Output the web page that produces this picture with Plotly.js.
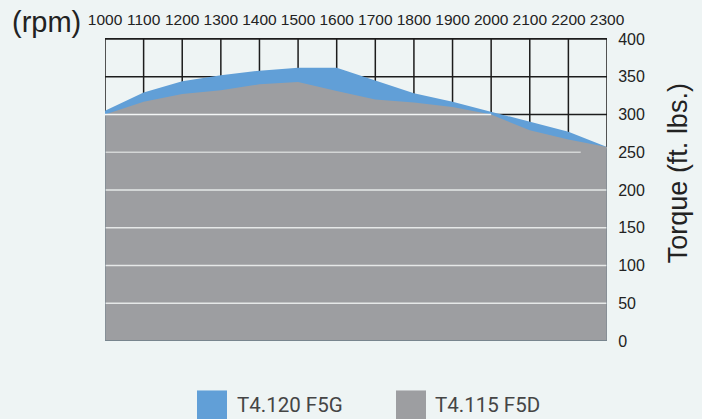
<!DOCTYPE html>
<html>
<head>
<meta charset="utf-8">
<script src="https://cdn.plot.ly/plotly-3.0.1.min.js"></script>
<style>
html,body{margin:0;padding:0;background:#eef4f4;}
#chart{width:702px;height:419px;}
</style>
</head>
<body>
<div id="chart"></div>
<script>
// Data
var rpm = [1000, 1100, 1200, 1300, 1400, 1500, 1600, 1700, 1800, 1900, 2000, 2100, 2200, 2300];
var torqueF5G = [305, 329, 344, 352, 358, 362, 362, 345, 328, 317, 304, 290, 277, 257];
var torqueF5D = [300, 317, 327, 332, 340, 343, 331, 320, 316, 310, 300, 279, 267, 257];
var seriesNames = ['T4.120 F5G', 'T4.115 F5D'];
var xTicks = [1000, 1100, 1200, 1300, 1400, 1500, 1600, 1700, 1800, 1900, 2000, 2100, 2200, 2300];
var yTicks = [0, 50, 100, 150, 200, 250, 300, 350, 400];

var BLUE = '#619fd7';
var GRAY = '#9d9ea1';
var BG = '#eef4f4';

// plot area in pixels
var L = 105, R = 607, T = 39, B = 340.6;
function px(x) { return (x - L) / (R - L); }
function py(y) { return (B - y) / (B - T); }

var traces = [
  {x: rpm, y: torqueF5G, name: seriesNames[0], type: 'scatter', mode: 'lines',
   fill: 'tozeroy', fillcolor: BLUE, line: {width: 0, color: BLUE}, hoverinfo: 'skip'},
  {x: rpm, y: torqueF5D, name: seriesNames[1], type: 'scatter', mode: 'lines',
   fill: 'tozeroy', fillcolor: GRAY, line: {width: 0, color: GRAY}, hoverinfo: 'skip'}
];

var shapes = [];
// black grid (below traces)
xTicks.forEach(function (v) {
  shapes.push({type: 'line', layer: 'below', xref: 'x', yref: 'y', x0: v, x1: v, y0: 0, y1: 400,
    line: {color: '#1c1c1c', width: 1.5}});
});
yTicks.forEach(function (v) {
  shapes.push({type: 'line', layer: 'below', xref: 'x', yref: 'y', x0: 1000, x1: 2300, y0: v, y1: v,
    line: {color: '#1c1c1c', width: 1.5}});
});
// white lines over the grey area
[50, 100, 150, 200].forEach(function (v) {
  shapes.push({type: 'line', layer: 'above', xref: 'x', yref: 'y', x0: 1000, x1: 2300, y0: v, y1: v,
    line: {color: '#e6e8e8', width: 1.5}});
});
shapes.push({type: 'line', layer: 'above', xref: 'x', yref: 'y', x0: 1000, x1: 2232, y0: 250, y1: 250,
  line: {color: '#d4d6d6', width: 1.5}});
shapes.push({type: 'line', layer: 'above', xref: 'x', yref: 'y', x0: 1000, x1: 2000, y0: 300, y1: 300,
  line: {color: '#f4f6f6', width: 1.5}});
// edges inside grey
shapes.push({type: 'line', layer: 'above', xref: 'x', yref: 'y', x0: 1000, x1: 2300, y0: 0, y1: 0,
  line: {color: '#6d7c88', width: 1.5}});
shapes.push({type: 'line', layer: 'above', xref: 'x', yref: 'y', x0: 1000, x1: 1000, y0: 0, y1: 298,
  line: {color: '#7a8690', width: 1.2}});
shapes.push({type: 'line', layer: 'above', xref: 'x', yref: 'y', x0: 2300, x1: 2300, y0: 0, y1: 255,
  line: {color: '#7a8690', width: 1.2}});
// legend squares
shapes.push({type: 'rect', xref: 'paper', yref: 'paper', x0: px(197), x1: px(227), y0: py(390), y1: py(421),
  fillcolor: BLUE, line: {width: 0}});
shapes.push({type: 'rect', xref: 'paper', yref: 'paper', x0: px(396), x1: px(426), y0: py(390), y1: py(421),
  fillcolor: GRAY, line: {width: 0}});

var annotations = [
  {text: '(rpm)', xref: 'paper', yref: 'paper', x: px(10), y: py(22.5), xanchor: 'left', yanchor: 'middle',
   showarrow: false, font: {family: 'Liberation Sans, Arial, sans-serif', size: 29, color: '#222'}},
  {text: 'Torque (ft. lbs.)', xref: 'paper', yref: 'paper', x: px(678), y: py(173), xanchor: 'center', yanchor: 'middle',
   textangle: -90, showarrow: false, font: {family: 'Liberation Sans, Arial, sans-serif', size: 27, color: '#222'}},
  {text: seriesNames[0], xref: 'paper', yref: 'paper', x: px(235), y: py(405), xanchor: 'left', yanchor: 'middle',
   showarrow: false, font: {family: 'Roboto, sans-serif', size: 20.5, color: '#454545'}},
  {text: seriesNames[1], xref: 'paper', yref: 'paper', x: px(433), y: py(405), xanchor: 'left', yanchor: 'middle',
   showarrow: false, font: {family: 'Roboto, sans-serif', size: 20.5, color: '#454545'}}
];

var layout = {
  width: 702, height: 419,
  paper_bgcolor: BG, plot_bgcolor: BG,
  margin: {l: L, r: 702 - R, t: T, b: 419 - B, pad: 0},
  showlegend: false,
  xaxis: {range: [1000, 2300], side: 'top', tickvals: xTicks, ticktext: xTicks.map(String),
    showgrid: false, zeroline: false, showline: true, linecolor: '#1c1c1c', linewidth: 1.5, mirror: false,
    ticks: 'outside', ticklen: 6, tickcolor: 'rgba(0,0,0,0)',
    tickfont: {family: 'Liberation Sans, Arial, sans-serif', size: 15.5, color: '#222'}, fixedrange: true},
  yaxis: {range: [0, 400], side: 'right', tickvals: yTicks, ticktext: yTicks.map(String),
    showgrid: false, zeroline: false, showline: false,
    ticks: 'outside', ticklen: 7, tickcolor: 'rgba(0,0,0,0)',
    tickfont: {family: 'Liberation Sans, Arial, sans-serif', size: 16, color: '#222'}, fixedrange: true},
  shapes: shapes,
  annotations: annotations
};

Plotly.newPlot('chart', traces, layout, {displayModeBar: false, staticPlot: true});
</script>
</body>
</html>
